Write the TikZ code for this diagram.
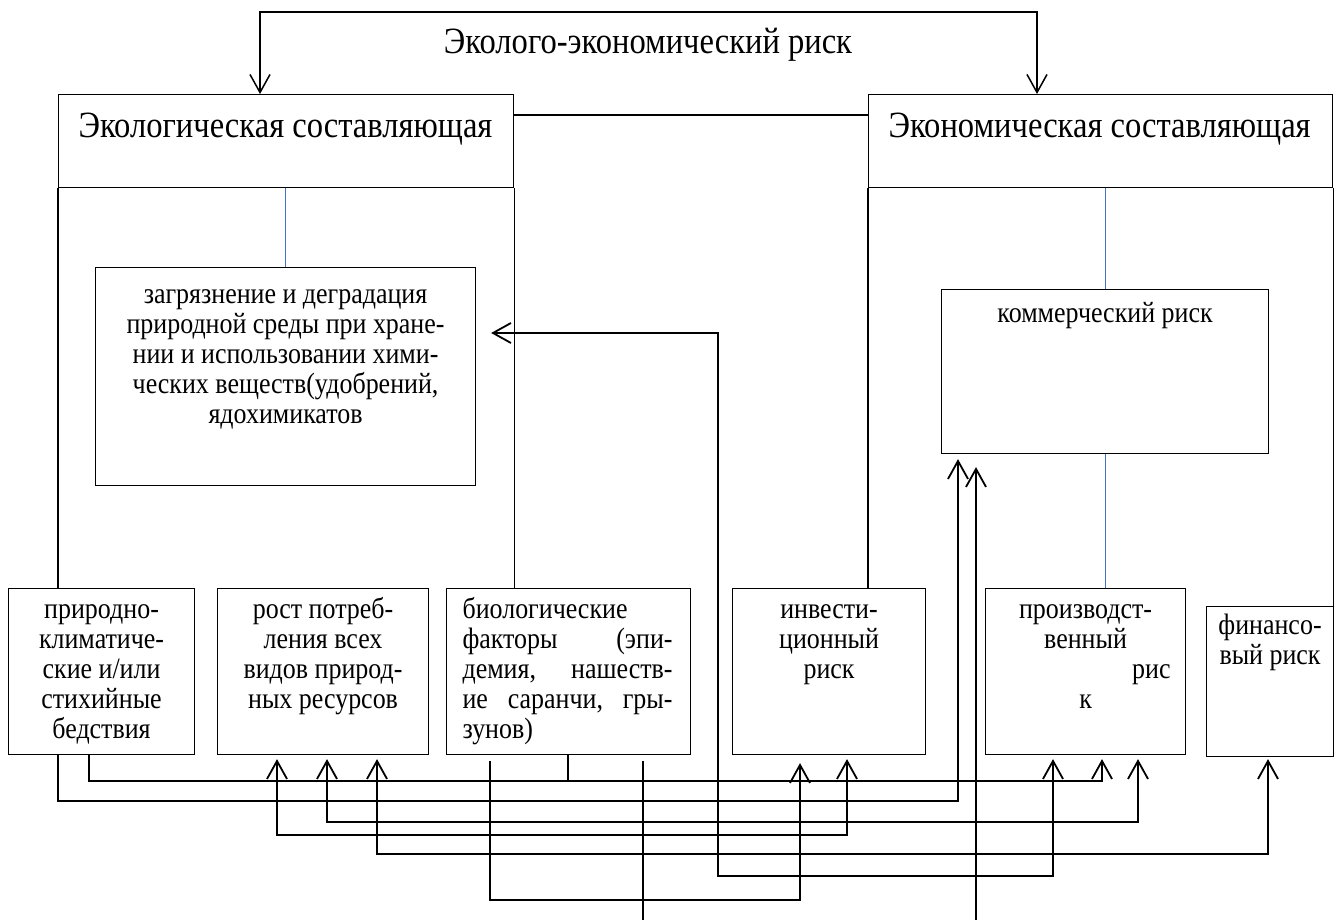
\documentclass[tikz,border=0pt]{standalone}
\usepackage{fontspec}
\setmainfont{Liberation Serif}[FakeStretch=0.88]
\usetikzlibrary{arrows.meta,calc}

\definecolor{wordblue}{RGB}{68,114,196}
\newcommand{\lowfont}{\fontsize{29.5pt}{30pt}\selectfont}
\newcommand{\headfont}{\fontsize{37pt}{39pt}\selectfont}
\newcommand{\topbox}[3]{\parbox[c][#1][t]{#2}{#3}}

\tikzset{
  riskbox/.style={draw, line width=1.1pt, inner ysep=0pt, inner xsep=8pt, anchor=north west},
  boxline/.style={line width=1.1pt},
  bluelink/.style={line width=1pt, draw=wordblue},
  link/.style={line width=1.8pt},
  endtip/.style={-{Straight Barb[length=18pt,width=20pt]}},
  bothtips/.style={{Straight Barb[length=18pt,width=20pt]}-{Straight Barb[length=18pt,width=20pt]}},
}

\begin{document}
\begin{tikzpicture}[x=1pt, y=-1pt]
    \useasboundingbox (0,0) rectangle (1338,920);

    % Title and the two components
    \node [font=\headfont] (title) at (648,45) {Эколого-экономический риск};
    \node [riskbox] (eco) at (58,94)
        {\topbox{93pt}{439pt}{\headfont\raggedright\vspace*{15.7pt}\noindent\hspace*{12pt}\strut Экологическая составляющая}};
    \node [riskbox] (econ) at (868,94)
        {\topbox{93pt}{448pt}{\headfont\raggedright\vspace*{15.7pt}\noindent\hspace*{12pt}\strut Экономическая составляющая}};

    % Inner boxes
    \node [riskbox] (zag) at (95,267)
        {\topbox{218pt}{364pt}{\lowfont\centering\vspace*{15pt}\strut загрязнение и деградация\\ природной среды при хране-\\ нии и использовании хими-\\ ческих веществ(удобрений,\\ ядохимикатов}};
    \node [riskbox] (kom) at (941,289)
        {\topbox{164pt}{311pt}{\lowfont\centering\vspace*{12pt}\strut коммерческий риск}};

    % Bottom row of factors
    \node [riskbox] (pr) at (8,588)
        {\topbox{166pt}{170pt}{\lowfont\centering\vspace*{9pt}\strut природно-\\ климатиче-\\ ские и/или\\ стихийные\\ бедствия}};
    \node [riskbox] (rost) at (217,588)
        {\topbox{166pt}{195pt}{\lowfont\centering\vspace*{9pt}\strut рост потреб-\\ ления всех\\ видов природ-\\ ных ресурсов}};
    \node [riskbox] (bio) at (446,588)
        {\topbox{166pt}{228pt}{\lowfont\leftskip=8pt\rightskip=10pt\vspace*{9pt}\noindent\strut биологические\\ факторы\hfill(эпи-\\ демия,\hfill нашеств-\\ ие\hfill саранчи,\hfill гры-\\ зунов)}};
    \node [riskbox] (inv) at (732,588)
        {\topbox{166pt}{177pt}{\lowfont\centering\vspace*{9pt}\strut инвести-\\ ционный\\ риск}};
    \node [riskbox, inner xsep=15pt] (proizv) at (985,588)
        {\topbox{166pt}{170pt}{\lowfont\centering\vspace*{9pt}\strut производст-\\ венный\\ \hfill рис\\ к}};
    \node [riskbox, inner xsep=4pt] (fin) at (1206,606)
        {\topbox{150pt}{119pt}{\lowfont\centering\vspace*{7pt}\strut финансо-\\ вый риск}};

    % Top bracket
    \coordinate (tl) at (260,12);
    \coordinate (tr) at (1037,12);
    \draw [link, line width=1.5pt, bothtips] (tl |- eco.north) -- (tl) -- (tr) -- (tr |- econ.north);
    \draw [boxline] ($(eco.north east)+(0,21)$) -- ($(econ.north west)+(0,21)$);

    % Frames under the components
    \draw [boxline] (eco.south west) -- (eco.south west |- pr.north);
    \draw [boxline] (eco.south east) -- (eco.south east |- bio.north);
    \draw [boxline] (econ.south west) -- (econ.south west |- inv.north);
    \draw [boxline] (econ.south east) -- (econ.south east |- fin.north);

    % Blue links
    \draw [bluelink] (zag.north) -- (zag.north |- eco.south);
    \draw [bluelink] (kom.north) -- (kom.north |- econ.south);
    \draw [bluelink] (kom.south) -- (kom.south |- proizv.north);

    % Connectors between factors
    \draw [link, endtip] ($(pr.south west)+(50,0)$) -- ++(0,46) -| ($(kom.south west)+(17,5)$);
    \draw [link, endtip] ($(pr.south west)+(81,0)$) -- ++(0,26) -| ($(proizv.south west)+(117,4)$);
    \draw [link] ($(bio.south west)+(122,0)$) -- ++(0,26);
    \draw [link, bothtips] ($(rost.south west)+(60,4)$) -- ++(0,76) -| ($(inv.south west)+(115,4)$);
    \draw [link, bothtips] ($(rost.south west)+(110,4)$) -- ++(0,63) -| ($(proizv.south west)+(153,4)$);
    \draw [link, bothtips] ($(rost.south west)+(160,4)$) -- ++(0,95) -| ($(fin.south west)+(62,2)$);
    \draw [link, endtip] ($(bio.south west)+(44,6)$) -- ++(0,139) -| ($(inv.south west)+(68,8)$);
    \draw [link] ($(bio.south west)+(197,6)$) -- ++(0,160);
    \draw [link, bothtips] ($(zag.north east)+(15,66)$) -| (718,876) -| ($(proizv.south west)+(68,4)$);
    \coordinate (kfoot) at (976,920);
    \draw [link, endtip] (kfoot) -- ($(kom.south west)+(35,13)$);
\end{tikzpicture}
\end{document}
